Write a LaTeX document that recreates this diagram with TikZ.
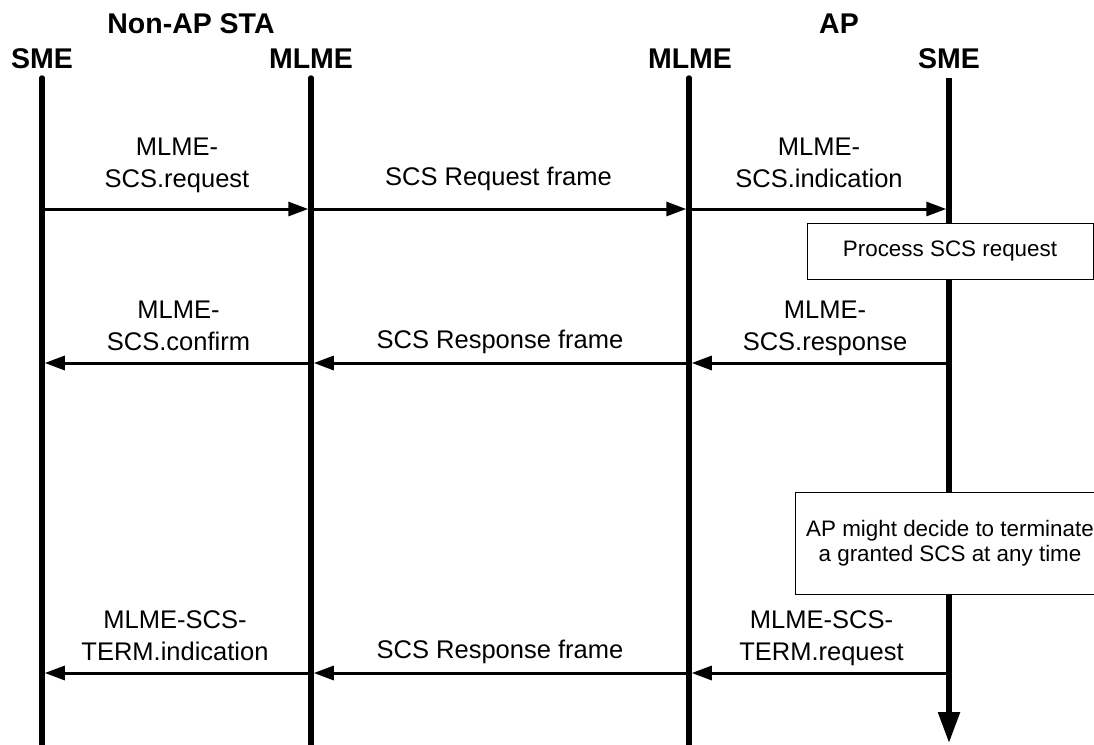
\documentclass[tikz,border=0pt]{standalone}
\usepackage{fontspec}
\setmainfont{Liberation Sans}
\usetikzlibrary{arrows.meta}
\begin{document}
\begin{tikzpicture}[x=1pt,y=-1pt,
  lifeline/.style={line width=5.5pt,line cap=round},
  msg/.style={line width=3pt,shorten >=2.75pt,-{Triangle[length=20pt,width=14pt]}},
  head/.style={font=\fontsize{28.5}{32}\selectfont\bfseries,inner sep=0pt,anchor=base},
  lbl/.style={font=\fontsize{25.5}{32}\selectfont,align=center,inner sep=0pt,anchor=base},
  note/.style={draw,line width=1pt,fill=white,font=\fontsize{22.4}{25}\selectfont,align=center,inner sep=0pt}
]
\useasboundingbox (0,0) rectangle (1094,744);
% headings
\node[head] (sta) at (191,33) {Non-AP STA};
\node[head] (ap) at (839,33) {AP};
\node[head] (hsme1) at (42,68) {SME};
\node[head] (hmlme1) at (311,68) {MLME};
\node[head] (hmlme2) at (690,68) {MLME};
\node[head] (hsme2) at (949,68) {SME};
% lifeline end points
\coordinate (s1t) at (42,78);  \coordinate (s1b) at (42,760);
\coordinate (m1t) at (311,78); \coordinate (m1b) at (311,760);
\coordinate (m2t) at (689,78); \coordinate (m2b) at (689,760);
\coordinate (s2t) at (949,78); \coordinate (s2b) at (949,743);
\draw[lifeline] (s1t) -- (s1b);
\draw[lifeline] (m1t) -- (m1b);
\draw[lifeline] (m2t) -- (m2b);
\draw[line width=5.5pt,-{Triangle[length=31pt,width=21pt]}] (s2t) -- (s2b);
% message points
\foreach \n/\y in {a/209,b/363,c/673}{
  \coordinate (s1\n) at (42,\y);
  \coordinate (m1\n) at (311,\y);
  \coordinate (m2\n) at (689,\y);
  \coordinate (s2\n) at (949,\y);
}
% row 1
\draw[msg] (s1a) -- (m1a);
\draw[msg] (m1a) -- (m2a);
\draw[msg] (m2a) -- (s2a);
\node[lbl] (l1a) at (177,187) {MLME-\\SCS.request};
\node[lbl] (l1b) at (498.5,185) {SCS Request frame};
\node[lbl] (l1c) at (819,187) {MLME-\\SCS.indication};
% process box
\node[note,minimum width=286pt,minimum height=56pt] (proc) at (950,251) {Process SCS request};
% row 2
\draw[msg] (s2b) -- (m2b);
\draw[msg] (m2b) -- (m1b);
\draw[msg] (m1b) -- (s1b);
\node[lbl] (l2a) at (178.5,350) {MLME-\\SCS.confirm};
\node[lbl] (l2b) at (500,348) {SCS Response frame};
\node[lbl] (l2c) at (825,350) {MLME-\\SCS.response};
% terminate box
\node[note,minimum width=310pt,minimum height=102pt] (term) at (950,543) {AP might decide to terminate\\a granted SCS at any time};
% row 3
\draw[msg] (s2c) -- (m2c);
\draw[msg] (m2c) -- (m1c);
\draw[msg] (m1c) -- (s1c);
\node[lbl] (l3a) at (175,660) {MLME-SCS-\\TERM.indication};
\node[lbl] (l3b) at (500,658) {SCS Response frame};
\node[lbl] (l3c) at (821.5,660) {MLME-SCS-\\TERM.request};
\end{tikzpicture}
\end{document}
